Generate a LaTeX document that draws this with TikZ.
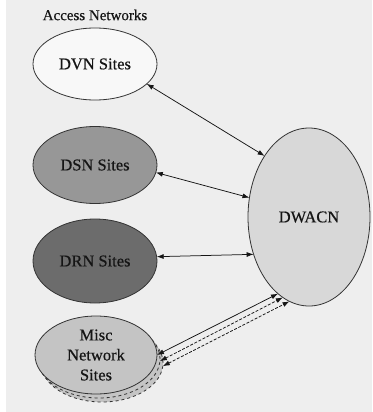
\documentclass[tikz,border=0pt]{standalone}
\usepackage{fontspec}
\setmainfont{Liberation Serif}
\newfontfamily\labelfont{Liberation Serif}[FakeBold=0.5]
\usetikzlibrary{arrows.meta,shapes.geometric}
\definecolor{paper}{HTML}{EEEEEE}
\definecolor{ink}{HTML}{151515}
\definecolor{edge}{HTML}{333333}
\definecolor{dvnfill}{HTML}{F8F8F8}
\definecolor{dsnfill}{HTML}{979797}
\definecolor{drnfill}{HTML}{6C6C6C}
\definecolor{miscfill}{HTML}{C4C4C4}
\definecolor{wanfill}{HTML}{D8D8D8}
\begin{document}
\begin{tikzpicture}[x=1pt,y=-1pt,
  site/.style={shape=ellipse, draw=edge, line width=0.8pt, inner sep=0pt,
    outer sep=0pt, minimum width=124pt, minimum height=74pt, text=ink,
    font=\labelfont\fontsize{16.5}{20}\selectfont},
  tip/.tip={Latex[length=7pt,width=5pt]},
  link/.style={tip-tip, draw=ink, line width=0.75pt},
  dlink/.style={link, dash pattern=on 3pt off 1.6pt}]
  % page
  \fill[paper] (0,0) rectangle (372,412);
  \fill[white] (0,0) rectangle (6,412);
  \useasboundingbox (0,0) rectangle (372,412);

  % access networks column
  \node[text=ink, font=\labelfont\fontsize{15}{18}\selectfont] (head) at (95,15) {Access Networks};
  \node[site, fill=dvnfill, minimum height=72pt] (dvn) at (95,64) {DVN Sites};
  \node[site, fill=dsnfill, minimum height=77pt] (dsn) at (95,165) {DSN Sites};
  \node[site, fill=drnfill, minimum height=84pt] (drn) at (95,261) {DRN Sites};

  % stacked misc sites
  \node[site, fill=miscfill, dashed, minimum width=122pt, minimum height=78pt] (misc2) at (102,363) {};
  \node[site, fill=miscfill, dashed, minimum width=122pt, minimum height=78pt] (misc1) at (99,359) {};
  \node[site, fill=miscfill, minimum width=122pt, minimum height=78pt, align=center] (misc) at (96,355) {Misc\\Network\\Sites};

  % wide area network
  \node[site, fill=wanfill, minimum width=122pt, minimum height=178pt] (dwacn) at (309,217) {DWACN};

  % links
  \draw[link] (dvn.-21) -- (dwacn.126);
  \draw[link] (dsn.-7) -- (dwacn.162);
  \draw[link] (drn.4) -- (dwacn.214);
  \draw[link] (misc.0) -- (dwacn.248);
  \draw[dlink] (misc1.-2) -- (dwacn.252);
  \draw[dlink] (misc2.-3) -- (dwacn.257);
\end{tikzpicture}
\end{document}
